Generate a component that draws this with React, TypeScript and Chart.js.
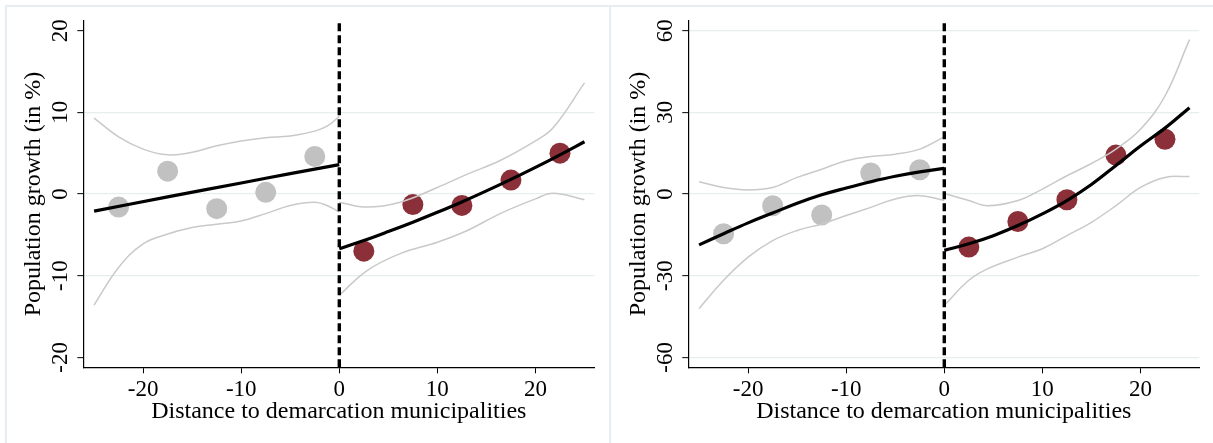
import React, { useEffect, useRef } from "react";
import { Chart, registerables } from "chart.js";

Chart.register(...registerables);

// ---------- data ----------
const xTicks = [-20, -10, 0, 10, 20];
const leftYTicks = [-20, -10, 0, 10, 20];
const rightYTicks = [-60, -30, 0, 30, 60];

const binXBelow = [-22.5, -17.5, -12.5, -7.5, -2.5];
const binXAbove = [2.5, 7.5, 12.5, 17.5, 22.5];

// Left panel
const leftBinsBelow = [-1.6, 2.8, -1.8, 0.2, 4.6];
const leftBinsAbove = [-7.0, -1.3, -1.4, 1.7, 5.0];
const leftFitBelowX = [-25, -17.5, -10, -5, 0];
const leftFitBelowY = [-2.1, -0.35, 1.35, 2.5, 3.6];
const leftFitAboveX = [0, 2.5, 5, 7.5, 10, 12.5, 15, 17.5, 20, 22.5, 25];
const leftFitAboveY = [-6.7, -5.7, -4.6, -3.45, -2.24, -0.97, 0.38, 1.79, 3.26, 4.8, 6.4];
const leftBandBelowX = [-25, -22.5, -20, -17.5, -15, -12.5, -10, -7.5, -5, -2.5, -1.25, 0];
const leftUpperBelow = [9.3, 7.0, 5.5, 4.8, 5.1, 5.9, 6.5, 6.9, 7.1, 7.7, 8.3, 9.5];
const leftLowerBelow = [-13.6, -9.0, -6.1, -4.9, -4.1, -3.7, -3.3, -2.4, -1.4, -1.0, -1.4, -2.2];
const leftBandAboveX = [0, 2.8, 6.2, 10, 13, 16.4, 20, 21.8, 25];
const leftUpperAbove = [-1.0, -1.6, -1.0, 0.8, 2.4, 4.1, 6.5, 8.1, 13.6];
const leftLowerAbove = [-12.4, -9.4, -7.3, -5.9, -4.5, -2.4, -0.6, 0.1, -0.7];

// Right panel
const rightBinsBelow = [-14.6, -4.3, -7.7, 7.7, 8.9];
const rightBinsAbove = [-19.5, -10.1, -2.1, 14.3, 20.1];
const rightFitBelowX = [-25, -22.5, -20, -17.5, -15, -12.5, -10, -7.5, -5, -2.5, 0];
const rightFitBelowY = [-18.7, -14.6, -10.6, -7.0, -3.4, -0.3, 2.2, 4.5, 6.5, 8.1, 9.4];
const rightFitAboveX = [0, 2.5, 5, 7.5, 10, 12.5, 15, 17.5, 20, 22.5, 25];
const rightFitAboveY = [-20.7, -18.3, -15.3, -11.6, -7.3, -2.4, 3.5, 10.5, 17.6, 24.2, 31.7];
const rightBandBelowX = [-25, -22.5, -20, -17.5, -15, -12.5, -10, -7.5, -5, -2.5, 0];
const rightUpperBelow = [4.5, 2.4, 1.5, 2.4, 6.1, 9.1, 12.2, 13.8, 14.6, 16.5, 21.0];
const rightLowerBelow = [-42.1, -31.7, -23.2, -17.1, -13.4, -11.0, -7.9, -4.9, -1.8, -0.6, -2.4];
const rightBandAboveX = [0, 2.5, 4.4, 7.5, 10, 12.5, 15, 17.5, 20, 22.5, 25];
const rightUpperAbove = [0.2, -2.4, -4.3, -2.4, 1.8, 6.7, 11.2, 16.5, 23.8, 36.0, 56.7];
const rightLowerAbove = [-40.9, -31.7, -27.5, -23.2, -20.1, -15.3, -10.4, -4.3, 2.4, 6.1, 6.4];

const xMin = -26.1;
const xMax = 26;
const leftYRange = 21.22;
const rightYRange = 63.66;

const xTitle = "Distance to demarcation municipalities";
const yTitle = "Population growth (in %)";

// ---------- styles ----------
const FONT = "'Liberation Serif', 'Times New Roman', serif";
const GRAY_DOT = "#c1c1c1";
const RED_DOT = "#8b2f38";
const BAND = "#c9c9c9";
const GRID = "#e7eef0";
const FRAME = "#e6edf0";

const pts = (xs: number[], ys: number[]) => xs.map((x, i) => ({ x, y: ys[i] }));

type PanelProps = {
  yTicks: number[];
  yRange: number;
  binsBelow: number[];
  binsAbove: number[];
  fitBelow: { x: number; y: number }[];
  fitAbove: { x: number; y: number }[];
  upperBelow: { x: number; y: number }[];
  lowerBelow: { x: number; y: number }[];
  upperAbove: { x: number; y: number }[];
  lowerAbove: { x: number; y: number }[];
  gridAtEnds: boolean;
};

function Panel(p: PanelProps) {
  const ref = useRef<HTMLCanvasElement | null>(null);
  useEffect(() => {
    if (!ref.current) return;
    const lineDs = (data: any[], color: string, width: number, extra: any = {}) => ({
      type: "line",
      data,
      borderColor: color,
      borderWidth: width,
      pointRadius: 0,
      tension: 0.4,
      fill: false,
      ...extra,
    });
    const chart = new Chart(ref.current, {
      type: "line",
      data: {
        datasets: [
          lineDs(
            [
              { x: 0, y: -p.yRange },
              { x: 0, y: p.yRange },
            ],
            "#000",
            3.4,
            { borderDash: [8, 4], tension: 0 }
          ),
          lineDs(p.fitBelow, "#000", 3.2),
          lineDs(p.fitAbove, "#000", 3.2),
          lineDs(p.upperBelow, BAND, 1.5),
          lineDs(p.lowerBelow, BAND, 1.5),
          lineDs(p.upperAbove, BAND, 1.5),
          lineDs(p.lowerAbove, BAND, 1.5),
          {
            type: "line",
            data: pts(binXBelow, p.binsBelow),
            showLine: false,
            pointRadius: 10.5,
            pointBackgroundColor: GRAY_DOT,
            pointBorderWidth: 0,
            borderColor: GRAY_DOT,
          },
          {
            type: "line",
            data: pts(binXAbove, p.binsAbove),
            showLine: false,
            pointRadius: 10.5,
            pointBackgroundColor: RED_DOT,
            pointBorderWidth: 0,
            borderColor: RED_DOT,
          },
        ] as any,
      },
      options: {
        responsive: false,
        animation: false,
        events: [],
        layout: { padding: { left: 0, top: 20.7, right: 10.7, bottom: 0 } },
        plugins: { legend: { display: false }, tooltip: { enabled: false } },
        scales: {
          x: {
            type: "linear",
            min: xMin,
            max: xMax,
            afterBuildTicks: (s: any) => {
              s.ticks = xTicks.map((v) => ({ value: v }));
            },
            afterFit: (s: any) => {
              s.height = 75.7;
            },
            grid: {
              display: true,
              drawOnChartArea: false,
              drawTicks: true,
              tickLength: 6,
              tickColor: "#000",
              tickWidth: 1,
            },
            border: { display: true, color: "#000", width: 1.2 },
            ticks: {
              color: "#000",
              font: { family: FONT, size: 23 },
              padding: 3,
              maxRotation: 0,
              minRotation: 0,
              autoSkip: false,
              callback: (v: any) => String(v),
            },
            title: {
              display: true,
              text: xTitle,
              color: "#000",
              font: { family: FONT, size: 24 },
              padding: { top: 0, bottom: 16.7 },
            },
          },
          y: {
            type: "linear",
            min: -p.yRange,
            max: p.yRange,
            afterBuildTicks: (s: any) => {
              s.ticks = p.yTicks.map((v) => ({ value: v }));
            },
            afterFit: (s: any) => {
              s.width = 83.3;
            },
            grid: {
              display: true,
              drawOnChartArea: true,
              drawTicks: true,
              tickLength: 6,
              tickColor: "#000",
              tickWidth: 1,
              lineWidth: 1.3,
              color: (ctx: any) => {
                const v = ctx.tick ? ctx.tick.value : 0;
                const last = p.yTicks[p.yTicks.length - 1];
                if (!p.gridAtEnds && Math.abs(v) >= last) return "rgba(0,0,0,0)";
                return GRID;
              },
            },
            border: { display: true, color: "#000", width: 1.2 },
            ticks: {
              color: "#000",
              font: { family: FONT, size: 23 },
              padding: 1.5,
              minRotation: 90,
              maxRotation: 90,
              crossAlign: "center",
              autoSkip: false,
              callback: (v: any) => String(v),
            },
            title: {
              display: true,
              text: yTitle,
              color: "#000",
              font: { family: FONT, size: 24 },
              padding: { top: 19, bottom: 0 },
            },
          },
        },
      } as any,
    });
    return () => chart.destroy();
  }, []);
  return <canvas ref={ref} width={605} height={443} style={{ width: 605, height: 443, display: "block" }} />;
}

export default function App() {
  return (
    <div
      style={{
        position: "fixed",
        left: 0,
        top: 0,
        width: 1213,
        height: 443,
        background: "#fff",
        overflow: "hidden",
      }}
    >
      <div style={{ position: "absolute", left: 5, top: 5, width: 1208, height: 2, background: FRAME }} />
      <div style={{ position: "absolute", left: 5, top: 5, width: 2, height: 438, background: FRAME }} />
      <div style={{ position: "absolute", left: 609, top: 5, width: 2, height: 438, background: FRAME }} />
      <div style={{ position: "absolute", left: 0, top: 0 }}>
        <Panel
          yTicks={leftYTicks}
          yRange={leftYRange}
          binsBelow={leftBinsBelow}
          binsAbove={leftBinsAbove}
          fitBelow={pts(leftFitBelowX, leftFitBelowY)}
          fitAbove={pts(leftFitAboveX, leftFitAboveY)}
          upperBelow={pts(leftBandBelowX, leftUpperBelow)}
          lowerBelow={pts(leftBandBelowX, leftLowerBelow)}
          upperAbove={pts(leftBandAboveX, leftUpperAbove)}
          lowerAbove={pts(leftBandAboveX, leftLowerAbove)}
          gridAtEnds={false}
        />
      </div>
      <div style={{ position: "absolute", left: 605, top: 0 }}>
        <Panel
          yTicks={rightYTicks}
          yRange={rightYRange}
          binsBelow={rightBinsBelow}
          binsAbove={rightBinsAbove}
          fitBelow={pts(rightFitBelowX, rightFitBelowY)}
          fitAbove={pts(rightFitAboveX, rightFitAboveY)}
          upperBelow={pts(rightBandBelowX, rightUpperBelow)}
          lowerBelow={pts(rightBandBelowX, rightLowerBelow)}
          upperAbove={pts(rightBandAboveX, rightUpperAbove)}
          lowerAbove={pts(rightBandAboveX, rightLowerAbove)}
          gridAtEnds={true}
        />
      </div>
    </div>
  );
}
